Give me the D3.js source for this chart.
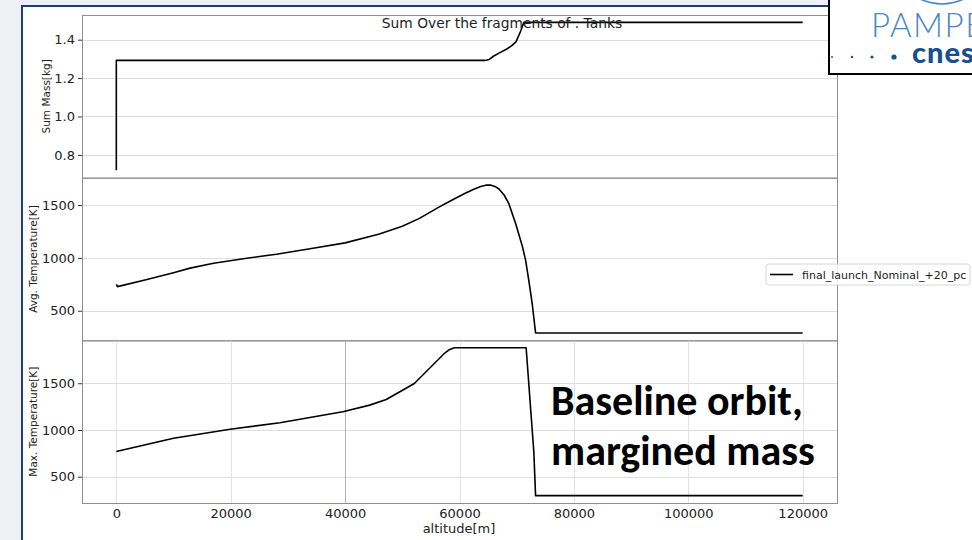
<!DOCTYPE html>
<html>
<head>
<meta charset="utf-8">
<script src="https://cdn.jsdelivr.net/npm/d3@7"></script>
<style>
body { margin: 0; background: #eef0f4; }
svg { display: block; }
</style>
</head>
<body>
<div id="cont"></div>
<script>
// data //

var seriesName = "final_launch_Nominal_+20_pc";
var titleText = "Sum Over the fragments of . Tanks";

var xTicks = [0, 20000, 40000, 60000, 80000, 100000, 120000];

// [altitude, value]
var massData = [[0, 0.72], [0, 1.292], [64500, 1.292], [65200, 1.297], [66000, 1.315], [66900, 1.33],
  [68200, 1.35], [69200, 1.37], [69900, 1.39], [70700, 1.445], [71250, 1.49], [120000, 1.49]];

var avgTempData = [[0, 750], [200, 728], [5000, 790], [10000, 860], [12900, 903], [17000, 950],
  [22800, 997], [28000, 1035], [34400, 1091], [40000, 1142], [46000, 1226], [50000, 1300],
  [53000, 1374], [56400, 1480], [58800, 1550], [61000, 1612], [62500, 1650], [63700, 1676],
  [64600, 1688], [65400, 1689], [66200, 1676], [66900, 1652], [67800, 1595], [68600, 1516],
  [69800, 1327], [71000, 1107], [71550, 981], [72100, 792], [72700, 573], [73300, 290], [120000, 290]];

var maxTempData = [[0, 769], [10000, 912], [19900, 1007], [28600, 1078], [39600, 1195],
  [44300, 1266], [47200, 1326], [52100, 1497], [57300, 1816], [58300, 1862], [59100, 1880],
  [71650, 1880], [73000, 760], [73300, 298], [120000, 298]];

var panels = [
  { label: "Sum Mass[kg]", data: massData, ticks: [0.8, 1.0, 1.2, 1.4], fmt: d3.format(".1f"), vgrid: false },
  { label: "Avg. Temperature[K]", data: avgTempData, ticks: [500, 1000, 1500], fmt: d3.format("d"), vgrid: false },
  { label: "Max. Temperature[K]", data: maxTempData, ticks: [500, 1000, 1500], fmt: d3.format("d"), vgrid: true }
];

// SVG stuff //

var W = 972, H = 540;
var svg = d3.select("#cont").append("svg").attr("width", W).attr("height", H);

// slide frame
svg.append("rect").attr("x", 22).attr("y", 6).attr("width", 1000).attr("height", 600)
  .attr("fill", "white").attr("stroke", "#1d3d7c").attr("stroke-width", 2);

var pLeft = 82, pRight = 837, pTop = 15, pBottom = 503;
var ph = (pBottom - pTop) / panels.length;

var x = d3.scaleLinear().domain([-6000, 126000]).range([pLeft, pRight]);

var font = "DejaVu Sans, sans-serif";

panels.forEach(function(p, i) {
  var y0 = pTop + i * ph, y1 = y0 + ph;
  var ext = d3.extent(p.data, function(d) { return d[1]; });
  var pad = (ext[1] - ext[0]) * 0.05;
  var y = d3.scaleLinear().domain([ext[0] - pad, ext[1] + pad]).range([y1, y0]);
  var g = svg.append("g");

  // grid
  g.selectAll(".hg").data(p.ticks).enter().append("line")
    .attr("x1", pLeft).attr("x2", pRight)
    .attr("y1", function(d) { return Math.round(y(d)) + 0.5; })
    .attr("y2", function(d) { return Math.round(y(d)) + 0.5; })
    .attr("stroke", "#dedede").attr("stroke-width", 1);
  if (p.vgrid) {
    g.selectAll(".vg").data(xTicks).enter().append("line")
      .attr("x1", function(d) { return Math.round(x(d)) + 0.5; })
      .attr("x2", function(d) { return Math.round(x(d)) + 0.5; })
      .attr("y1", y0).attr("y2", y1)
      .attr("stroke", function(d) { return d === 40000 ? "#b4b4b4" : "#e2e2e2"; })
      .attr("stroke-width", 1);
  }

  // y axis
  var ax = g.append("g").attr("transform", "translate(" + pLeft + ",0)")
    .call(d3.axisLeft(y).tickValues(p.ticks).tickFormat(p.fmt).tickSize(4).tickPadding(3));
  ax.select(".domain").remove();
  ax.selectAll("line").attr("stroke", "#333");
  ax.selectAll("text").attr("font-family", font).attr("font-size", 13).attr("fill", "#222");

  g.append("text")
    .attr("transform", "translate(" + (i === 0 ? 50 : 37) + "," + ((y0 + y1) / 2) + ") rotate(-90)")
    .attr("text-anchor", "middle").attr("font-family", font).attr("font-size", 10.5)
    .attr("fill", "#222").text(p.label);

  // series
  g.append("path").datum(p.data)
    .attr("fill", "none").attr("stroke", "black").attr("stroke-width", 1.6)
    .attr("stroke-linejoin", "round")
    .attr("d", d3.line().x(function(d) { return x(d[0]); }).y(function(d) { return y(d[1]); }));

  // frame
  g.append("rect").attr("x", pLeft + 0.5).attr("y", y0 + 0.5)
    .attr("width", pRight - pLeft).attr("height", ph)
    .attr("fill", "none").attr("stroke", "#8e8e8e").attr("stroke-width", 1);
});

// x axis at bottom
var xa = svg.append("g").attr("transform", "translate(0," + pBottom + ")")
  .call(d3.axisBottom(x).tickValues(xTicks).tickFormat(d3.format("d")).tickSize(0).tickPadding(6));
xa.select(".domain").remove();
xa.selectAll("text").attr("font-family", font).attr("font-size", 13).attr("fill", "#222");

svg.append("text").attr("x", 459).attr("y", 533).attr("text-anchor", "middle")
  .attr("font-family", font).attr("font-size", 13).attr("fill", "#222").text("altitude[m]");

svg.append("text").attr("x", 502).attr("y", 28).attr("text-anchor", "middle")
  .attr("font-family", font).attr("font-size", 13.8).attr("fill", "#222").text(titleText);

// legend
var lg = svg.append("g");
lg.append("rect").attr("x", 766).attr("y", 264).attr("width", 204).attr("height", 21).attr("rx", 3)
  .attr("fill", "white").attr("fill-opacity", 0.8).attr("stroke", "#d6d6d6");
lg.append("line").attr("x1", 770).attr("x2", 793).attr("y1", 274.5).attr("y2", 274.5)
  .attr("stroke", "black").attr("stroke-width", 1.6);
lg.append("text").attr("x", 802).attr("y", 278.5).attr("font-family", font).attr("font-size", 11)
  .attr("fill", "#222").text(seriesName);

// annotation
var ann = svg.append("text").attr("font-family", "Carlito, Lato, sans-serif").attr("font-weight", "bold")
  .attr("font-size", 42).attr("fill", "black");
ann.append("tspan").attr("x", 551).attr("y", 415).text("Baseline orbit,");
ann.append("tspan").attr("x", 551).attr("y", 465).text("margined mass");

// logo box
var logo = svg.append("g");
logo.append("rect").attr("x", 829).attr("y", -10).attr("width", 200).attr("height", 84)
  .attr("fill", "white").attr("stroke", "black").attr("stroke-width", 2);
logo.append("path").attr("d", "M918,-2 Q942,10 966,-2").attr("fill", "none")
  .attr("stroke", "#4a86c5").attr("stroke-width", 1.5);
logo.append("text").attr("x", 871).attr("y", 37).attr("font-family", "Lato, Open Sans, sans-serif")
  .attr("font-weight", 300).attr("font-size", 33).attr("letter-spacing", 1.5)
  .attr("fill", "#4a86c5").text("PAMPE");
logo.selectAll("circle").data([[832, 0.9], [852, 1.2], [872, 1.6], [894, 2.6]]).enter().append("circle")
  .attr("cx", function(d) { return d[0]; }).attr("cy", 57).attr("r", function(d) { return d[1]; })
  .attr("fill", "#17508e");
logo.append("text").attr("x", 912).attr("y", 63).attr("font-family", "Lato, Open Sans, sans-serif")
  .attr("font-weight", 900).attr("font-size", 29).attr("letter-spacing", 1)
  .attr("fill", "#17508e").text("cnes");
</script>
</body>
</html>
